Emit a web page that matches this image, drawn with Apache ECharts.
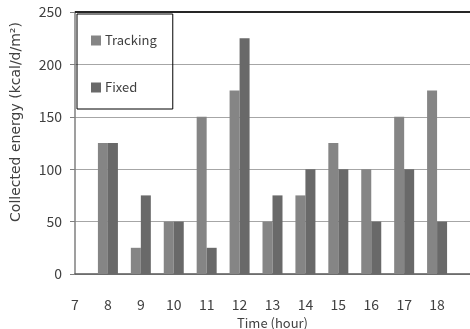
<!DOCTYPE html>
<html><head><meta charset="utf-8">
<script src="https://cdn.jsdelivr.net/npm/echarts@6/dist/echarts.min.js"></script>
<style>html,body{margin:0;padding:0;background:#fff}#c{width:470px;height:329px}</style>
</head><body><div id="c"></div>
<script>
const hours = ['7','8','9','10','11','12','13','14','15','16','17','18','19'];
const tracking = [null,125,25,50,150,175,50,75,125,100,150,175,null];
const fixed = [null,125,75,50,25,225,75,100,100,50,100,50,null];
const yTicks = [0,50,100,150,200,250];
const FONT = '"Noto Sans CJK KR", "Noto Sans", sans-serif';
const chart = echarts.init(document.getElementById('c'), null, {renderer:'canvas'});
chart.setOption({
  animation:false,
  textStyle:{fontFamily:FONT},
  grid:{left:75,right:0,top:12,bottom:55,containLabel:false,outerBoundsMode:'none'},
  legend:{
    orient:'vertical', left:77, top:14,
    padding:[20,16,15,14], itemGap:34, itemWidth:10, itemHeight:10,
    borderColor:'#000', borderWidth:1,
    icon:'rect',
    textStyle:{fontFamily:FONT,fontSize:13,color:'#404040',padding:[0,0,0,-1]},
    data:['Tracking','Fixed']
  },
  xAxis:{
    type:'category', data:hours, boundaryGap:false,
    name:'Time (hour)', nameLocation:'middle', nameGap:41,
    nameTextStyle:{fontFamily:FONT,fontSize:13,color:'#404040'},
    axisLine:{lineStyle:{color:'#595959',width:1.5}},
    axisTick:{show:false},
    axisLabel:{fontFamily:FONT,fontSize:14,color:'#404040',margin:24,
      formatter:function(v){return v==='19'?'':v;}}
  },
  yAxis:{
    type:'value', min:0, max:250, interval:50,
    name:'Collected energy (kcal/d/m²)', nameLocation:'middle', nameGap:52,
    nameTextStyle:{fontFamily:'"DejaVu Sans", sans-serif',fontSize:14,color:'#404040',padding:[0,0,0,42]},
    axisLine:{show:true,lineStyle:{color:'#7f7f7f',width:1.5}},
    axisTick:{show:true,length:5,lineStyle:{color:'#7f7f7f'}},
    axisLabel:{fontFamily:FONT,fontSize:14,color:'#404040',margin:13},
    splitLine:{lineStyle:{color:'#a6a6a6',width:1}}
  },
  graphic:[{type:'line',shape:{x1:75,y1:12,x2:470,y2:12},style:{stroke:'#262626',lineWidth:2},z:100}],
  series:[
    {name:'Tracking',type:'bar',data:tracking,barWidth:10,barGap:'0%',itemStyle:{color:'#858585'}},
    {name:'Fixed',type:'bar',data:fixed,barWidth:10,barGap:'0%',itemStyle:{color:'#696969'}}
  ]
});
</script></body></html>
